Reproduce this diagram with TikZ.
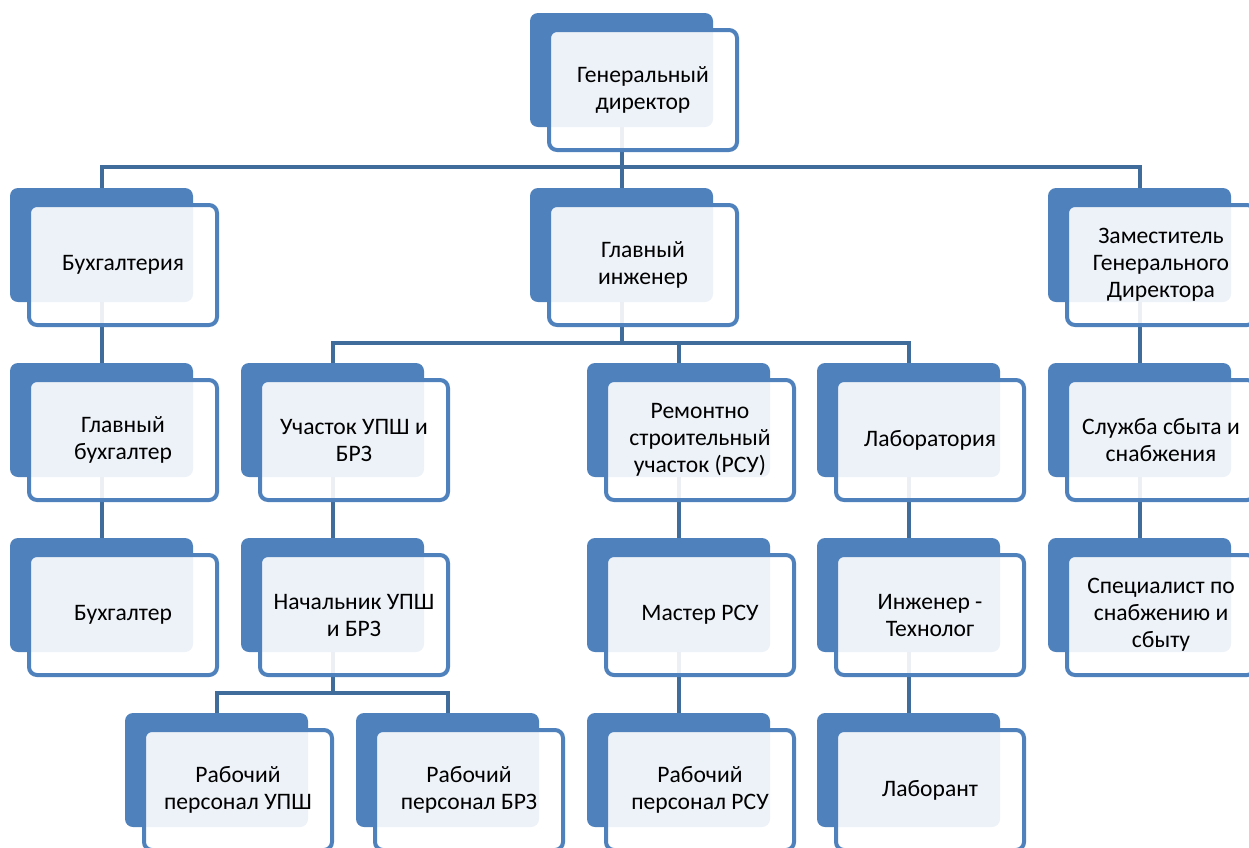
\documentclass[tikz,border=0pt]{standalone}
\usepackage{fontspec}
\setmainfont{Carlito}
\definecolor{accent}{RGB}{79,129,189}
\definecolor{conn}{RGB}{64,108,156}
\pgfdeclarelayer{bg}
\pgfsetlayers{bg,main}
\tikzset{
  darkbox/.style={fill=accent, draw=none, rounded corners=8pt, minimum width=183pt, minimum height=114pt, inner sep=0pt, outer sep=0pt},
  frontbox/.style={fill=white, fill opacity=0.9, text opacity=1, draw=accent, draw opacity=1, line width=4pt, rounded corners=8pt, minimum width=188pt, minimum height=120pt, inner sep=0pt, outer sep=0pt, align=center, font=\fontsize{23.6}{27}\selectfont, text=black},
  connector/.style={draw=conn, line width=4pt}
}
% #1 name, #2 dark left, #3 dark top, #4 text
\newcommand{\orgbox}[4]{%
  \node[darkbox] (#1) at (#2+91.5,#3+57) {};
  \node[frontbox] (#1-f) at (#2+113,#3+77) {#4};
}
\begin{document}
\begin{tikzpicture}[x=1pt,y=-1pt]
\useasboundingbox (0,0) rectangle (1249,847);
% row 0
\orgbox{gd}{530}{13}{Генеральный\\директор}
% row 1
\orgbox{buh}{10}{188}{Бухгалтерия}
\orgbox{gi}{530}{188}{Главный\\инженер}
\orgbox{zam}{1048}{188}{Заместитель\\Генерального\\Директора}
% row 2
\orgbox{gb}{10}{363}{Главный\\бухгалтер}
\orgbox{uch}{241}{363}{Участок УПШ и\\БРЗ}
\orgbox{rsu}{587}{363}{Ремонтно\\строительный\\участок (РСУ)}
\orgbox{lab}{817}{363}{Лаборатория}
\orgbox{sl}{1048}{363}{Служба сбыта и\\снабжения}
% row 3
\orgbox{b}{10}{538}{Бухгалтер}
\orgbox{nach}{241}{538}{Начальник УПШ\\и БРЗ}
\orgbox{mast}{587}{538}{Мастер РСУ}
\orgbox{ing}{817}{538}{Инженер -\\Технолог}
\orgbox{spec}{1048}{538}{Специалист по\\снабжению и\\сбыту}
% row 4
\orgbox{rupsh}{125}{713}{Рабочий\\персонал УПШ}
\orgbox{rbrz}{356}{713}{Рабочий\\персонал БРЗ}
\orgbox{rrsu}{587}{713}{Рабочий\\персонал РСУ}
\orgbox{labt}{817}{713}{Лаборант}
\begin{pgfonlayer}{bg}
  % top bus
  \draw[connector] (gd.south) -- ++(0,40) coordinate (busA);
  \draw[connector] (busA) -| (buh.north);
  \draw[connector] (busA) -| (zam.north);
  \draw[connector] (gd.south) -- (gi.north);
  % chief engineer bus
  \draw[connector] (gi.south) -- ++(0,41) coordinate (busB);
  \draw[connector] (busB) -| (uch.north);
  \draw[connector] (busB) -| (rsu.north);
  \draw[connector] (busB) -| (lab.north);
  % head of section bus
  \draw[connector] (nach.south) -- ++(0,41) coordinate (busC);
  \draw[connector] (busC) -| (rupsh.north);
  \draw[connector] (busC) -| (rbrz.north);
  % single chains
  \draw[connector] (buh.south) -- (gb.north);
  \draw[connector] (gb.south) -- (b.north);
  \draw[connector] (uch.south) -- (nach.north);
  \draw[connector] (rsu.south) -- (mast.north);
  \draw[connector] (mast.south) -- (rrsu.north);
  \draw[connector] (lab.south) -- (ing.north);
  \draw[connector] (ing.south) -- (labt.north);
  \draw[connector] (zam.south) -- (sl.north);
  \draw[connector] (sl.south) -- (spec.north);
\end{pgfonlayer}
\end{tikzpicture}
\end{document}
